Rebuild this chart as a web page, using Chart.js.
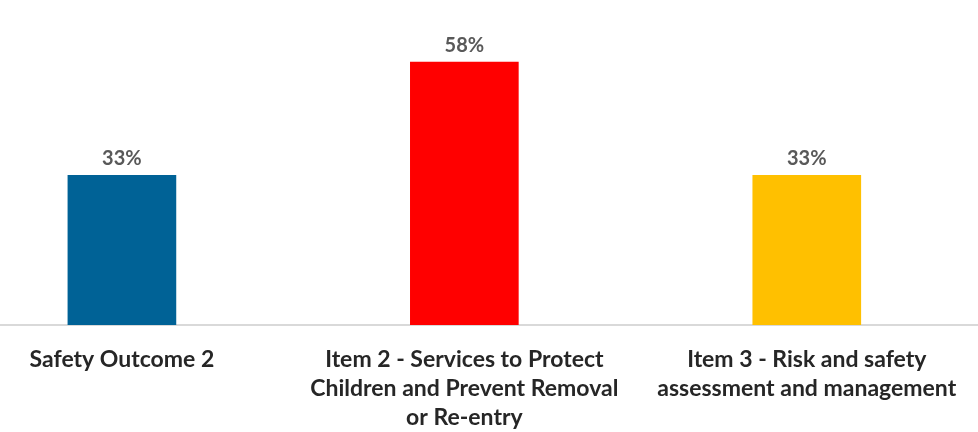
<!DOCTYPE html>
<html>
<head>
<meta charset="utf-8">
<script src="https://cdn.jsdelivr.net/npm/chart.js@4"></script>
<style>
  html, body { margin: 0; padding: 0; background: #fff; }
  #wrap { width: 978px; height: 432px; position: relative; }
</style>
</head>
<body>
<div id="wrap"><canvas id="myChart"></canvas></div>
<script>
var categories = [
    ['Safety Outcome 2'],
    ['Item 2 - Services to Protect', 'Children and Prevent Removal', 'or Re-entry'],
    ['Item 3 - Risk and safety', 'assessment and management']
];
var percents = [33, 58, 33];
var barColors = ['#006296', '#FF0000', '#FFC000'];

// draws the "33%" labels on top of each bar
const valueLabels = {
    id: 'valueLabels',
    afterDatasetsDraw(chart) {
        const ctx = chart.ctx;
        const meta = chart.getDatasetMeta(0);
        ctx.save();
        ctx.font = 'bold 20px Lato';
        ctx.fillStyle = '#595959';
        ctx.textAlign = 'center';
        ctx.textBaseline = 'bottom';
        meta.data.forEach((bar, i) => {
            ctx.fillText(percents[i] + '%', bar.x, bar.y - 7);
        });
        ctx.restore();
    }
};

const ctx = document.getElementById('myChart').getContext('2d');
new Chart(ctx, {
    type: 'bar',
    data: {
        datasets: [{
            data: percents.map((v, i) => ({ x: i, y: v })),
            backgroundColor: barColors,
            barThickness: 108
        }]
    },
    options: {
        responsive: true,
        maintainAspectRatio: false,
        animation: false,
        layout: { padding: 0 },
        plugins: {
            legend: { display: false },
            tooltip: { enabled: false }
        },
        scales: {
            x: {
                type: 'linear',
                offset: false,
                min: -0.356,
                max: 2.5,
                afterFit: function (scale) { scale.height = 107; },
                grid: { display: false },
                border: { display: true, color: '#d9d9d9', width: 2 },
                ticks: {
                    stepSize: 1,
                    includeBounds: false,
                    autoSkip: false,
                    maxRotation: 0,
                    padding: 12,
                    color: '#262626',
                    font: { family: 'Lato', size: 23, weight: 'bold', lineHeight: 1.26 },
                    callback: function (value) {
                        return Number.isInteger(value) && categories[value] ? categories[value] : '';
                    }
                }
            },
            y: {
                display: false,
                min: 0,
                max: 71.7
            }
        }
    },
    plugins: [valueLabels]
});
</script>
</body>
</html>
